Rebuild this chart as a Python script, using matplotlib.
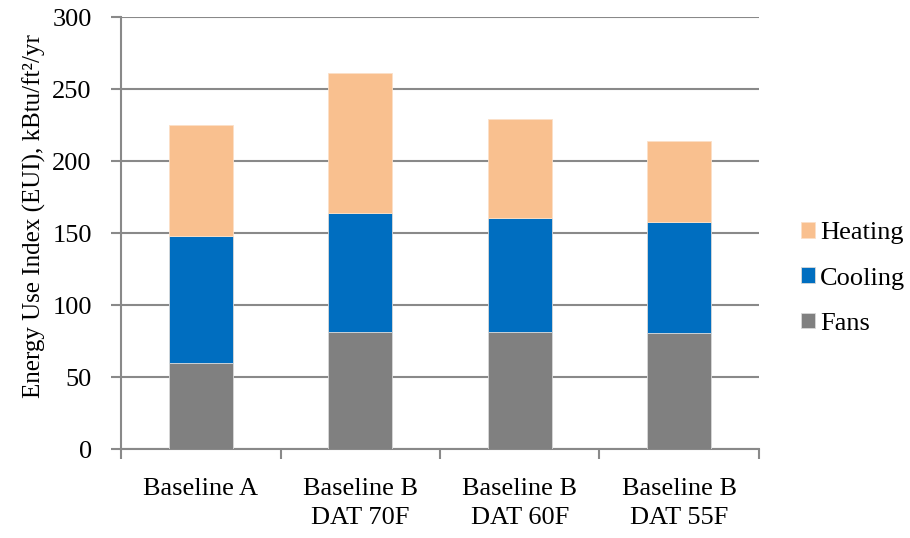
import numpy as np
import matplotlib.pyplot as plt

# EUI breakdown by case, kBtu/ft2/yr
cases = ['Baseline A', 'Baseline B\nDAT 70F', 'Baseline B\nDAT 60F', 'Baseline B\nDAT 55F']
fans = [60, 81, 81, 80.6]
cooling = [88, 82.7, 79.6, 77]
heating = [77, 97.6, 68.5, 56.3]

plt.rcParams['font.family'] = ['Liberation Serif', 'DejaVu Serif']
plt.rcParams['font.size'] = 19

fig = plt.figure(figsize=(9.1, 5.38), dpi=100)
ax = fig.add_axes([0.133, 0.1654, 0.701, 0.8026])

x = np.arange(len(cases))
w = 0.40
grey = '#898989'

cool_bottom = np.array(fans)
heat_bottom = cool_bottom + np.array(cooling)

ax.bar(x, fans, w, color='#808080', edgecolor='#d9d9d9', linewidth=0.6, label='Fans', zorder=3)
ax.bar(x, cooling, w, bottom=cool_bottom, color='#006EC0', edgecolor='#d9d9d9', linewidth=0.6, label='Cooling', zorder=3)
ax.bar(x, heating, w, bottom=heat_bottom, color='#F9C08F', edgecolor='#fbe0c8', linewidth=0.6, label='Heating', zorder=3)

ax.set_xlim(-0.5, len(cases) - 0.5)
ax.set_ylim(0, 300)
ax.set_yticks(np.arange(0, 301, 50))
ax.yaxis.grid(True, color=grey, linewidth=1.5, zorder=0)
ax.set_axisbelow(True)

# category labels centred, ticks on the boundaries
ax.set_xticks(x)
ax.set_xticklabels(cases, linespacing=1.4)
ax.tick_params(axis='x', length=0, pad=21)
ax.set_xticks(np.arange(-0.5, len(cases)), minor=True)
ax.tick_params(axis='x', which='minor', length=7, width=1.5, color=grey, direction='out')
ax.tick_params(axis='y', length=7, width=1.5, color=grey, direction='out', pad=14)

for s in ['top', 'right']:
    ax.spines[s].set_visible(False)
for s in ['left', 'bottom']:
    ax.spines[s].set_color(grey)
    ax.spines[s].set_linewidth(1.5)

ax.set_ylabel('Energy Use Index (EUI), kBtu/ft²/yr', fontsize=18)
ax.yaxis.set_label_coords(-0.118, 0.54)

handles, labels = ax.get_legend_handles_labels()
ax.legend(handles[::-1], labels[::-1], loc='center left', bbox_to_anchor=(1.049, 0.395),
          frameon=False, handlelength=0.53, handleheight=0.53, handletextpad=0.2,
          labelspacing=0.88, borderaxespad=0)

fig.savefig('out.png', dpi=100)
